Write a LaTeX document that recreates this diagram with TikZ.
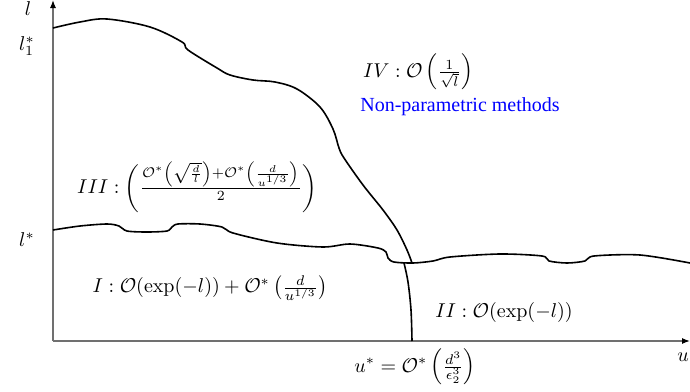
\documentclass[tikz,border=0pt]{standalone}
\usepackage{amsmath,amssymb}
\usepackage{fontspec}
\newfontfamily\timesfont{Liberation Serif}
\usepackage{tikz}
\usetikzlibrary{arrows.meta}
\definecolor{axisgray}{HTML}{707070}

\begin{document}
\begin{tikzpicture}[
  x=0.5pt, y=-0.5pt,
  axis/.style={axisgray, line width=0.6pt, -{Latex[black, length=4pt, width=3pt]}},
  bound/.style={thick, line join=round},
  note/.style={blue}]
\useasboundingbox (0,0) rectangle (690,391);

% axes
\coordinate (orig) at (53,341);
\coordinate (ytip) at (53,0);
\coordinate (xtip) at (690,341);
\draw[axis] (orig)--(ytip);
\draw[axis] (orig)--(xtip);

\node (laxis) at (28,9) {$l$};
\node (lone) at (27,46) {$l_1^*$};
\node (lstar) at (27,240) {$l^*$};
\node (uaxis) at (683,357) {$u$};
\node (ustar) at (415,367) {$u^* = \mathcal{O}^*\left(\frac{d^3}{\epsilon_2^3}\right)$};

% region boundaries
\draw[bound] plot[smooth, tension=0.55] coordinates {(53,28) (80,22) (107,19) (150,27) (182,42) (188,50) (217,68) (230,75) (253,80) (275,82) (297,89) (320,107) (333,129) (339,148) (344,158) (363,185) (383,210) (397,230) (407,250) (412,263)};
\draw[bound] plot[smooth, tension=0.55] coordinates {(404,263) (408,282) (411,310) (412,341)};
\draw[bound] plot[smooth, tension=0.5] coordinates {(53,230) (80,226) (107,224) (119,226) (127,231) (147,232) (167,231) (172,227) (178,224) (200,224) (222,227) (233,233) (277,243) (323,247) (350,244) (378,248) (386,252) (388,258) (394,262) (413,263) (433,261) (450,257) (500,254) (542,256) (549,261) (567,263) (585,261) (594,256) (640,255) (690,263)};

% region labels
\node (regIV) at (418,72) {$IV : \mathcal{O}\left(\frac{1}{\sqrt{l}}\right)$};
\node[note] (nonpar) at (460,107) {\timesfont Non-parametric methods};
\node (regIII) at (197,187) {$III : \left(\frac{\mathcal{O}^*\left(\sqrt{\frac{d}{l}}\right)+\mathcal{O}^*\left(\frac{d}{u^{1/3}}\right)}{2}\right)$};
\node (regI) at (210,288) {$I : \mathcal{O}(\exp(-l)) + \mathcal{O}^*\left(\frac{d}{u^{1/3}}\right)$};
\node (regII) at (504,312) {$II : \mathcal{O}(\exp(-l))$};
\end{tikzpicture}
\end{document}
